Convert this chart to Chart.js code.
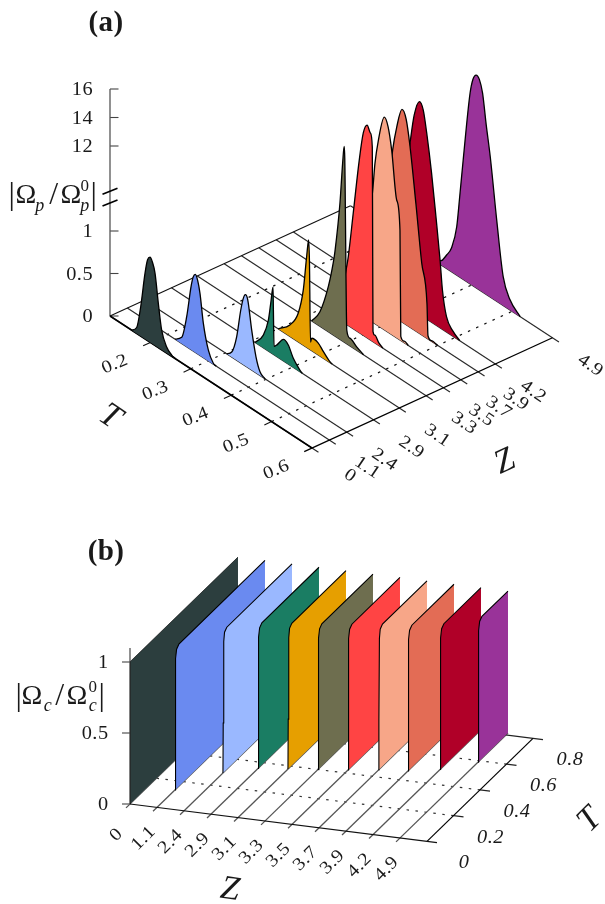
<!DOCTYPE html>
<html>
<head>
<meta charset="utf-8">
<title>Pulse propagation</title>
<script src="https://cdn.jsdelivr.net/npm/chart.js@4/dist/chart.umd.min.js"></script>
<style>
    html, body { margin: 0; padding: 0; background: #fff; }
    canvas { display: block; }
</style>
</head>
<body>
<canvas id="chart" width="605" height="904"></canvas>
<script>
// axis labels
const zLabels = ['0', '1.1', '2.4', '2.9', '3.1', '3.3', '3.5', '3.7', '3.9', '4.2', '4.9'];
const zSlotsA = [0, 1, 2, 3.55, 5.05, 6.6, 7.6, 8.6, 9.6, 10.6, 13.9];
const zSlotsB = [0, 1, 2, 3, 4, 5, 6, 7, 8, 9, 10];
const tauTicksA = [0.2, 0.3, 0.4, 0.5, 0.6];
const tauTicksB = [0, 0.2, 0.4, 0.6, 0.8];
const ampTicksA = [0, 0.5, 1, 12, 14, 16];
const ampTicksB = [0, 0.5, 1];
const colors = ['#2c3e3e', '#6a8af0', '#9ab8ff', '#1a7d63', '#e69f00', '#6e6e4f', '#ff4444', '#f7a688', '#e36c55', '#b00028', '#993399'];

// panel (a): probe pulse
const tauA0 = [0.1537, 0.166, 0.176, 0.1866, 0.193, 0.199, 0.205, 0.2114, 0.2196, 0.2279, 0.2403, 0.2527, 0.262];
const ampA0 = [0, 0.07, 0.345, 0.77, 0.95, 1.0, 0.96, 0.85, 0.52, 0.23, 0.07, 0.015, 0];
const tauA1 = [0.218, 0.2347, 0.247, 0.2577, 0.263, 0.2683, 0.274, 0.28, 0.2881, 0.3005, 0.3129, 0.32];
const ampA1 = [0, 0.074, 0.355, 0.74, 0.87, 0.92, 0.87, 0.73, 0.41, 0.13, 0.012, 0];
const tauA2 = [0.3032, 0.3156, 0.328, 0.3379, 0.3443, 0.3493, 0.3552, 0.3651, 0.3757, 0.3856, 0.398];
const ampA2 = [0, 0.06, 0.28, 0.62, 0.78, 0.84, 0.8, 0.47, 0.19, 0.045, 0];
const tauA3 = [0.307, 0.3275, 0.34, 0.3458, 0.3515, 0.3525, 0.354, 0.3606, 0.377, 0.3893, 0.4017, 0.418, 0.424];
const ampA3 = [0, 0.15, 0.365, 0.58, 0.79, 0.5, 0.1, 0.136, 0.254, 0.226, 0.108, 0.02, 0];
const tauA4 = [0.3, 0.329, 0.3498, 0.3622, 0.3705, 0.3755, 0.3775, 0.38, 0.383, 0.3993, 0.4116, 0.428, 0.434];
const ampA4 = [0, 0.135, 0.34, 0.65, 1.74, 4.07, 1.2, 0.09, 0.146, 0.14, 0.08, 0.01, 0];
const tauA5 = [0.3166, 0.337, 0.3577, 0.37, 0.3743, 0.3866, 0.3933, 0.397, 0.3985, 0.4035, 0.411, 0.428, 0.445];
const ampA5 = [0.0, 0.17, 0.53, 0.85, 1.0, 7.65, 12.6, 13.8, 13, 0.16, 0.09, 0.04, 0];
const tauA6 = [0.3, 0.33, 0.35, 0.3604, 0.3644, 0.3767, 0.3916, 0.4015, 0.411, 0.419, 0.4238, 0.4248, 0.4255, 0.43, 0.44, 0.45];
const ampA6 = [0, 0.16, 0.4, 0.68, 0.81, 5.0, 12.2, 14.27, 15, 14.6, 13.7, 1.0, 0.12, 0.09, 0.03, 0];
const tauA7 = [0.3, 0.33, 0.36, 0.372, 0.382, 0.3876, 0.3958, 0.4107, 0.42, 0.429, 0.4413, 0.4495, 0.4515, 0.46, 0.47];
const ampA7 = [0, 0.16, 0.6, 2.5, 7.08, 10.75, 13.06, 15, 14.5, 13.0, 7.85, 4.2, 0.05, 0.02, 0];
const tauA8 = [0.3, 0.33, 0.36, 0.375, 0.3886, 0.3985, 0.4116, 0.422, 0.4314, 0.446, 0.4604, 0.4735, 0.476, 0.485, 0.5];
const ampA8 = [0, 0.16, 0.6, 4, 11.5, 13.5, 15, 14.5, 12.8, 6.56, 0.85, 0.41, 0.04, 0.01, 0];
const tauA9 = [0.31, 0.34, 0.36, 0.375, 0.39, 0.399, 0.412, 0.4215, 0.43, 0.442, 0.453, 0.463, 0.469, 0.479, 0.495, 0.512];
const ampA9 = [0, 0.3, 1, 5, 11.9, 13.8, 15, 14.58, 13.13, 9.32, 3.97, 0.8, 0.46, 0.18, 0.06, 0];
const tauA10 = [0.302, 0.324, 0.338, 0.35, 0.363, 0.371, 0.379, 0.396, 0.403, 0.411, 0.419, 0.427, 0.436, 0.446, 0.462, 0.478, 0.495, 0.52];
const ampA10 = [0, 0.05, 0.16, 0.28, 0.57, 0.98, 5.46, 13.45, 14.55, 15, 14.85, 14.03, 11.95, 8.16, 0.956, 0.34, 0.12, 0];
const tausA = [tauA0, tauA1, tauA2, tauA3, tauA4, tauA5, tauA6, tauA7, tauA8, tauA9, tauA10];
const ampsA = [ampA0, ampA1, ampA2, ampA3, ampA4, ampA5, ampA6, ampA7, ampA8, ampA9, ampA10];

// panel (b): control field, a step that switches on later with z
const tauB0 = [0, 0.001, 0.002, 0.003, 0.004, 0.815, 0.8151];
const tauB1 = [0.136, 0.138, 0.142, 0.148, 0.165, 0.815, 0.8151];
const tauB2 = [0.294, 0.296, 0.3, 0.306, 0.323, 0.815, 0.8151];
const tauB3 = [0.355, 0.357, 0.361, 0.367, 0.384, 0.815, 0.8151];
const tauB4 = [0.377, 0.379, 0.383, 0.389, 0.406, 0.815, 0.8151];
const tauB5 = [0.4, 0.402, 0.406, 0.412, 0.429, 0.815, 0.8151];
const tauB6 = [0.423, 0.425, 0.429, 0.435, 0.452, 0.815, 0.8151];
const tauB7 = [0.45, 0.452, 0.456, 0.462, 0.479, 0.815, 0.8151];
const tauB8 = [0.468, 0.47, 0.474, 0.48, 0.497, 0.815, 0.8151];
const tauB9 = [0.506, 0.508, 0.512, 0.518, 0.535, 0.815, 0.8151];
const tauB10 = [0.589, 0.591, 0.595, 0.601, 0.618, 0.815, 0.8151];
const ampB = [0, 0.35, 0.92, 0.98, 1, 1, 0];
const tausB = [tauB0, tauB1, tauB2, tauB3, tauB4, tauB5, tauB6, tauB7, tauB8, tauB9, tauB10];

// broken vertical axis of panel (a)
function ampHeight(a) {
    if (a <= 1) return 85 * a;
    if (a <= 12) return 85 + (a - 1) * 85 / 11;
    return 170 + (a - 12) * 14.25;
}

// oblique projections of (z slot, tau, amplitude) to page position
function projA(k, tau, amp) {
    return {
        x: 110 + 17.3 * k + 404 * (tau - 0.1),
        y: 316 - 7.93 * k + 264 * (tau - 0.1) - ampHeight(amp)
    };
}
function projB(k, tau, amp) {
    return {
        x: 130 + 27 * k + 132.5 * tau,
        y: 804 + 3.4 * k - 128.75 * tau - 142 * amp
    };
}

function seg(p, q, color, width, order, dash) {
    return {
        data: [p, q],
        borderColor: color,
        borderWidth: width,
        borderDash: dash || [],
        pointRadius: 0,
        fill: false,
        order: order
    };
}

function wall(points, color, order, width) {
    return {
        data: points,
        borderColor: '#000',
        borderWidth: width,
        backgroundColor: color,
        fill: 'shape',
        pointRadius: 0,
        cubicInterpolationMode: 'monotone',
        order: order
    };
}

const DOTS = [2.5, 6.5];
const datasets = [];

// panel (a) floor
const kEndA = zSlotsA[zSlotsA.length - 1];
datasets.push(seg(projA(0, 0.1, 0), projA(kEndA, 0.1, 0), '#111', 1.1, 50));
datasets.push(seg(projA(0, 0.1, 0), projA(0, 0.6, 0), '#000', 1.5, 49));
datasets.push(seg(projA(-0.45, 0.6, 0), projA(kEndA, 0.6, 0), '#000', 1.3, 49));
zSlotsA.forEach(function (k) {
    datasets.push(seg(projA(k, 0.1, 0), projA(k, 0.616, 0), '#2a2a2a', 1.2, 50));
});
tauTicksA.slice(0, 4).forEach(function (t) {
    datasets.push(seg(projA(-0.42, t, 0), projA(0, t, 0), '#111', 1.1, 50));
    datasets.push(seg(projA(0, t, 0), projA(kEndA, t, 0), '#111', 1.2, 60, DOTS));
});

// panel (a) vertical axis
const axisA = projA(0, 0.1, 0);
datasets.push(seg({ x: axisA.x, y: axisA.y }, { x: axisA.x, y: axisA.y - ampHeight(16) }, '#555', 1.3, 50));
ampTicksA.forEach(function (a) {
    const y = axisA.y - ampHeight(a);
    datasets.push(seg({ x: axisA.x, y: y }, { x: axisA.x + 8.5, y: y }, '#444', 1.1, 50));
});
const breakAmps = [4.62, 6.14];
breakAmps.forEach(function (a) {
    const y = axisA.y - ampHeight(a);
    datasets.push(seg({ x: axisA.x - 7.5, y: y + 3 }, { x: axisA.x + 7.5, y: y - 3 }, '#000', 1.6, 40));
});

// panel (a) pulses, smaller z in front
zSlotsA.forEach(function (k, i) {
    const pts = tausA[i].map(function (t, j) { return projA(k, t, ampsA[i][j]); });
    datasets.push(wall(pts, colors[i], i, 1.3));
});

// panel (b) floor
const kEndB = 11;
datasets.push(seg(projB(0, 0, 0), projB(kEndB + 0.37, 0, 0), '#111', 1.2, 50));
datasets.push(seg(projB(kEndB, 0, 0), projB(kEndB, 0.8, 0), '#000', 1.2, 50));
datasets.push(seg(projB(0, 0.8, 0), projB(kEndB + 0.37, 0.8, 0), '#222', 1.2, 50));
zSlotsB.forEach(function (k) {
    datasets.push(seg(projB(k, -0.03, 0), projB(k, 0.815, 0), '#555', 1.3, 50));
});
tauTicksB.forEach(function (t) {
    if (t > 0 && t < 0.8) {
        datasets.push(seg(projB(0, t, 0), projB(kEndB, t, 0), '#333', 1.2, 60, DOTS));
        datasets.push(seg(projB(kEndB, t, 0), projB(kEndB + 0.37, t, 0), '#222', 1.1, 50));
    }
});

// panel (b) vertical axis
const axisB = projB(0, 0, 0);
datasets.push(seg({ x: axisB.x, y: axisB.y }, { x: axisB.x, y: axisB.y - 156 }, '#555', 1.3, 50));
ampTicksB.forEach(function (a) {
    const y = axisB.y - 142 * a;
    datasets.push(seg({ x: axisB.x - 8, y: y }, { x: axisB.x, y: y }, '#444', 1.1, 50));
});

// panel (b) walls, larger z in front; the outline skips the closing point so the right edge stays unstroked
zSlotsB.forEach(function (k, i) {
    const pts = tausB[i].map(function (t, j) { return projB(k, t, ampB[j]); });
    const outline = {
        data: pts.slice(0, pts.length - 1),
        borderColor: '#000',
        borderWidth: i === 0 ? 0.6 : 1.1,
        pointRadius: 0,
        fill: false,
        tension: 0,
        order: 20 - i
    };
    const body = wall(pts, colors[i], 20 - i, 0);
    body.cubicInterpolationMode = 'default';
    body.tension = 0;
    datasets.push(outline, body);
});

const SERIF = '"Liberation Serif", "DejaVu Serif", serif';

function put(ctx, text, x, y, font, angle, align, stretch) {
    ctx.save();
    ctx.translate(x, y);
    ctx.rotate((angle || 0) * Math.PI / 180);
    ctx.scale(stretch || 1, 1);
    ctx.font = font;
    ctx.letterSpacing = '0.4px';
    ctx.fillStyle = '#1a1a1a';
    ctx.textAlign = align || 'center';
    ctx.textBaseline = 'middle';
    ctx.fillText(text, 0, 0);
    ctx.restore();
}

// plain canvas text, the axes here are oblique so the built in ticks do not fit
const labelsPlugin = {
    id: 'labels',
    afterDraw: function (chart) {
        const ctx = chart.ctx;
        const tick = '18px ' + SERIF;
        const omega = '28px ' + SERIF;
        const bar = '32px ' + SERIF;
        const sub = 'italic 18px ' + SERIF;
        const title = 'bold 29px ' + SERIF;
        const script = 'italic 34px ' + SERIF;
        const WIDE = 1.13;

        put(ctx, '(a)', 106, 24, title);
        put(ctx, '(b)', 106, 553, title);

        ampTicksA.forEach(function (a) {
            put(ctx, String(a), 93, axisA.y - ampHeight(a) + 1.5, tick, 0, 'right', WIDE);
        });
        tauTicksA.forEach(function (t) {
            const p = projA(0, t, 0);
            put(ctx, String(t), p.x - 35.5, p.y + 22, tick, -22, 'center', WIDE);
        });
        zLabels.forEach(function (lab, i) {
            const p = projA(zSlotsA[i], 0.616, 0);
            put(ctx, lab, p.x + 31.5, p.y + 23.5, tick, 34, 'center', WIDE);
        });
        put(ctx, 'T', 110, 417, script, 34);
        put(ctx, 'Z', 505, 462, script, -25);

        // |Omega_p / Omega_p^0|
        put(ctx, '|', 12, 196, bar);
        put(ctx, '\u03A9', 26, 196, omega);
        put(ctx, 'p', 40, 206, sub);
        put(ctx, '/', 54, 196, bar);
        put(ctx, '\u03A9', 71, 196, omega);
        put(ctx, '0', 85, 187, '17px ' + SERIF);
        put(ctx, 'p', 85, 206, sub);
        put(ctx, '|', 94, 196, bar);

        ampTicksB.forEach(function (a) {
            put(ctx, String(a), 108.5, axisB.y - 142 * a + 1.5, tick, 0, 'right', WIDE);
        });
        zLabels.forEach(function (lab, i) {
            const p = projB(zSlotsB[i], -0.03, 0);
            put(ctx, lab, p.x - 9.5, p.y + 27, tick, -45, 'center', WIDE);
        });
        tauTicksB.forEach(function (t) {
            const p = projB(kEndB + 0.37, t, 0);
            put(ctx, String(t), p.x + 27, p.y + 21, 'italic ' + tick, 0, 'center', WIDE);
        });
        put(ctx, 'Z', 230, 890, script, 8);
        put(ctx, 'T', 590, 820, script, -45);

        // |Omega_c / Omega_c^0|
        put(ctx, '|', 19, 697, bar);
        put(ctx, '\u03A9', 32, 697, omega);
        put(ctx, 'c', 48, 706, sub);
        put(ctx, '/', 60, 697, bar);
        put(ctx, '\u03A9', 77, 697, omega);
        put(ctx, '0', 93, 688, '17px ' + SERIF);
        put(ctx, 'c', 93, 706, sub);
        put(ctx, '|', 102, 697, bar);
    }
};

new Chart(document.getElementById('chart'), {
    type: 'line',
    data: { datasets: datasets },
    options: {
        responsive: false,
        animation: false,
        parsing: false,
        normalized: false,
        spanGaps: false,
        layout: { padding: 0 },
        scales: {
            x: { type: 'linear', display: false, min: 0, max: 605 },
            y: { type: 'linear', display: false, min: 0, max: 904, reverse: true }
        },
        plugins: {
            legend: { display: false },
            tooltip: { enabled: false }
        }
    },
    plugins: [labelsPlugin]
});
</script>
</body>
</html>
